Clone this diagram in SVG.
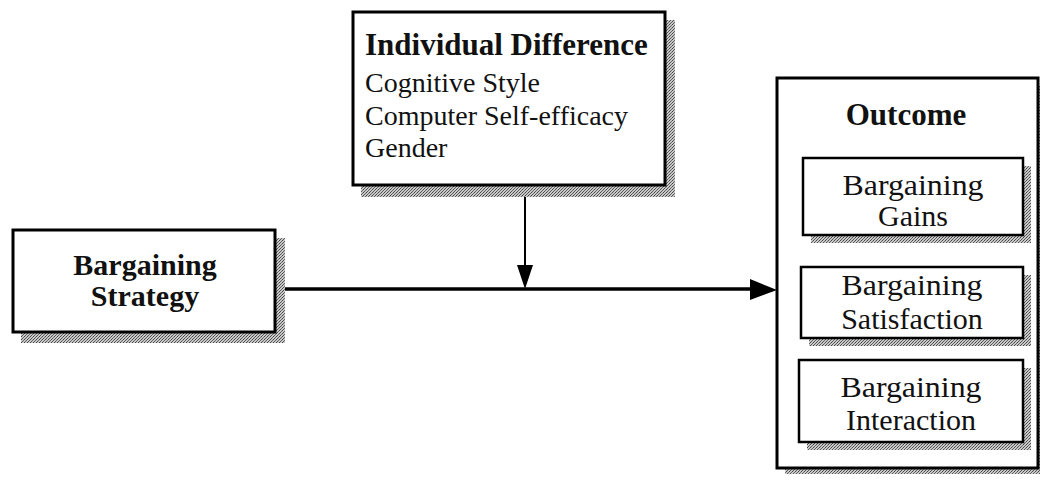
<svg xmlns="http://www.w3.org/2000/svg" width="1040" height="484" viewBox="0 0 1040 484">
<defs>
<pattern id="dots" width="3" height="3" patternUnits="userSpaceOnUse">
<rect width="3" height="3" fill="#c8c8c8"/>
<rect x="0" y="0" width="1" height="1" fill="#444"/>
<rect x="2" y="1" width="1" height="1" fill="#666"/>
<rect x="1" y="2" width="1" height="1" fill="#555"/>
</pattern>
</defs>
<style>
.box{fill:#fff;stroke:#000;stroke-width:3}
.ibox{fill:#fff;stroke:#000;stroke-width:2.5}
.sh{fill:url(#dots)}
.b{font-family:"Liberation Serif","Times New Roman",serif;font-weight:bold;fill:#111}
.r{font-family:"Liberation Serif","Times New Roman",serif;fill:#111}
</style>
<g id="connectors">
<line x1="525" y1="197" x2="525" y2="266" stroke="#000" stroke-width="2"/>
<path d="M517,265 L533,265 L525,289 z" fill="#000"/>
<line x1="285" y1="289" x2="752" y2="289" stroke="#000" stroke-width="3.5"/>
<path d="M750,279 L777,290 L750,300 z" fill="#000"/>
</g>
<g id="strategy">
<rect class="sh" x="21" y="238" width="264" height="105"/>
<rect class="box" x="13" y="230" width="262" height="102"/>
<text class="b" font-size="30" x="145" y="275" text-anchor="middle">Bargaining</text>
<text class="b" font-size="30" x="145" y="306" text-anchor="middle">Strategy</text>
</g>
<g id="individual">
<rect class="sh" x="361" y="20" width="314" height="177"/>
<rect class="box" x="353" y="12" width="312" height="173"/>
<text class="b" font-size="31" x="365" y="55">Individual Difference</text>
<text class="r" font-size="28" x="365" y="92">Cognitive Style</text>
<text class="r" font-size="28" x="365" y="125">Computer Self-efficacy</text>
<text class="r" font-size="28" x="365" y="157">Gender</text>
</g>
<g id="outcome">
<rect class="sh" x="785" y="86" width="260" height="388"/>
<rect class="box" x="777" y="78" width="261" height="390"/>
<text class="b" font-size="31" x="906" y="125" text-anchor="middle">Outcome</text>
</g>
<g id="gains">
<rect class="sh" x="811" y="166" width="220" height="77"/>
<rect class="ibox" x="803" y="158" width="220" height="77"/>
<text class="r" font-size="30" x="913" y="195" text-anchor="middle" textLength="141" lengthAdjust="spacingAndGlyphs">Bargaining</text>
<text class="r" font-size="30" x="913" y="226" text-anchor="middle">Gains</text>
</g>
<g id="satisfaction">
<rect class="sh" x="809" y="275" width="222" height="71"/>
<rect class="ibox" x="801" y="267" width="222" height="71"/>
<text class="r" font-size="30" x="912" y="295" text-anchor="middle" textLength="141" lengthAdjust="spacingAndGlyphs">Bargaining</text>
<text class="r" font-size="30" x="912" y="329" text-anchor="middle">Satisfaction</text>
</g>
<g id="interaction">
<rect class="sh" x="807" y="368" width="224" height="82"/>
<rect class="ibox" x="799" y="360" width="224" height="82"/>
<text class="r" font-size="30" x="911" y="397" text-anchor="middle" textLength="141" lengthAdjust="spacingAndGlyphs">Bargaining</text>
<text class="r" font-size="30" x="911" y="430" text-anchor="middle">Interaction</text>
</g>
</svg>
